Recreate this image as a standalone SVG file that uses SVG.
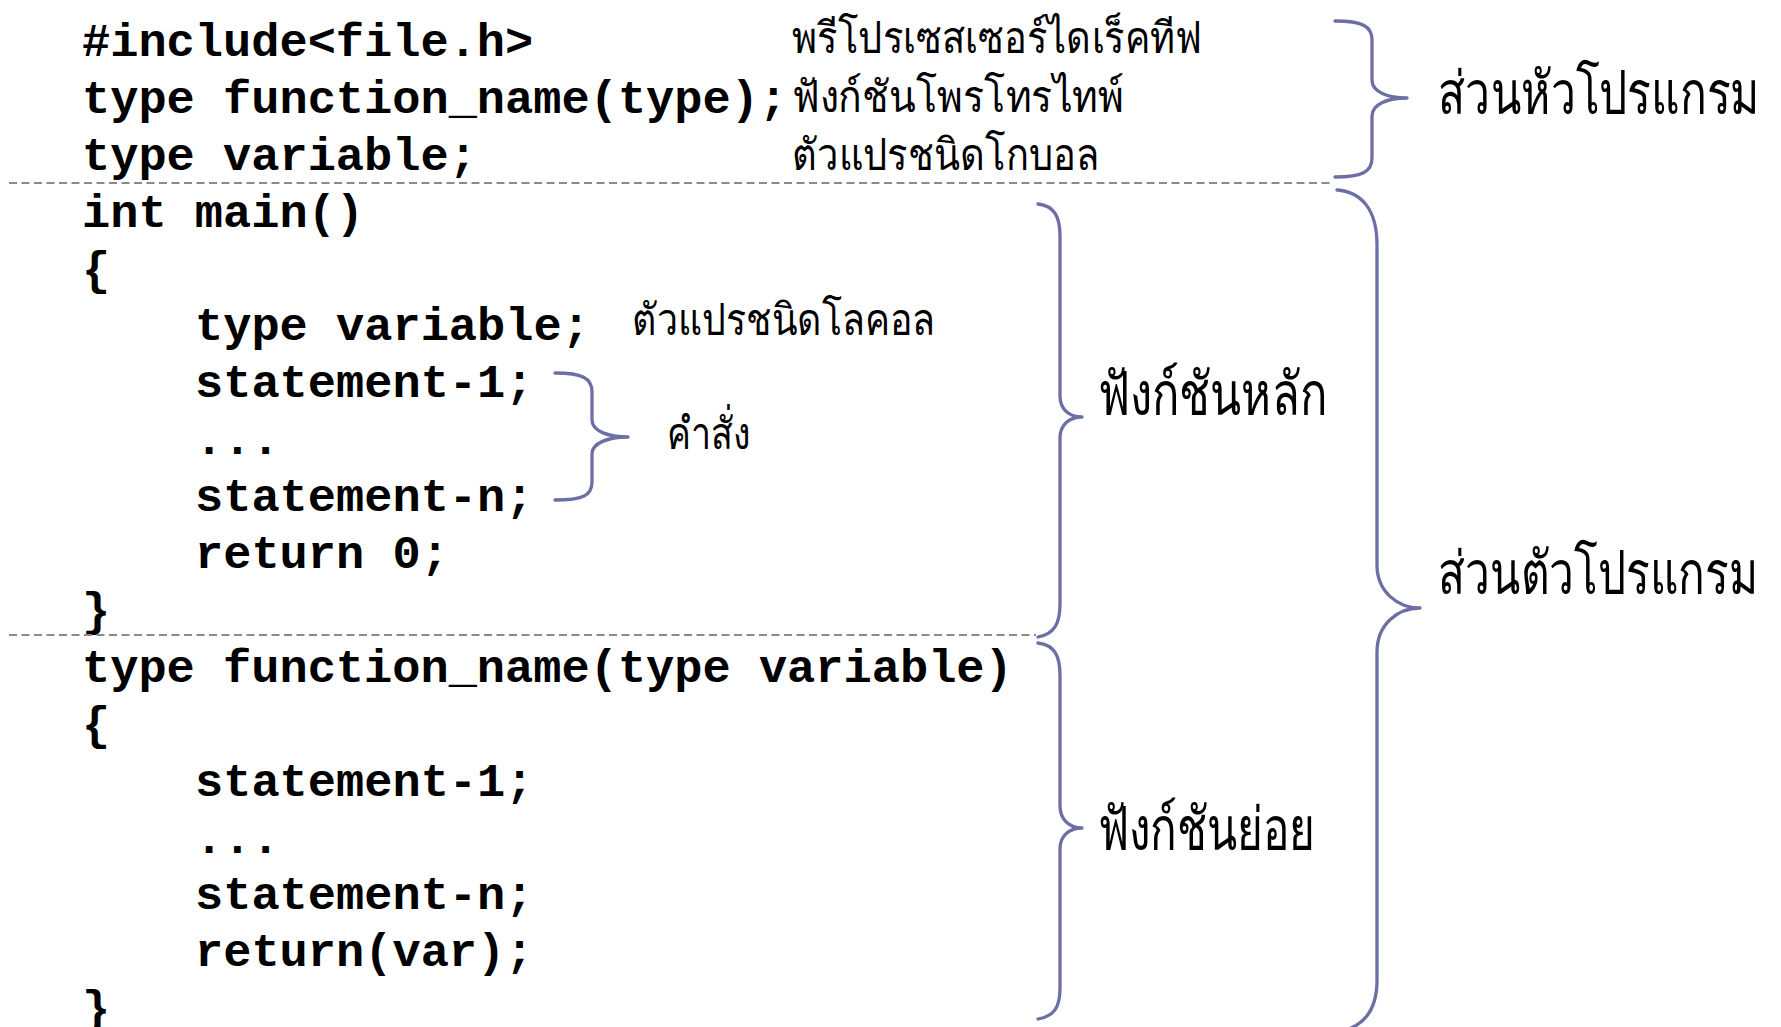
<svg xmlns="http://www.w3.org/2000/svg" width="1781" height="1027" viewBox="0 0 1781 1027">
<style>
.code{font-family:"Liberation Mono","DejaVu Sans Mono",monospace;font-weight:bold;font-size:47px;fill:#000}
.th{font-family:"Noto Sans","DejaVu Sans",sans-serif;font-size:44px;fill:#000}
.thb{font-family:"Noto Sans","DejaVu Sans",sans-serif;font-size:60px;fill:#000}
.brace{fill:none;stroke:#6C6FA6;stroke-width:3.3;stroke-linecap:round;stroke-linejoin:round}
.dash{fill:none;stroke:#8a8a8a;stroke-width:2;stroke-dasharray:8 4.5}
</style>
<rect width="1781" height="1027" fill="#fff"/>
<g id="code">
<text class="code" x="82" y="56">#include&lt;file.h&gt;</text>
<text class="code" x="82" y="113">type function_name(type);</text>
<text class="code" x="82" y="170">type variable;</text>
<text class="code" x="82" y="227">int main()</text>
<text class="code" x="82" y="284">{</text>
<text class="code" x="195" y="340">type variable;</text>
<text class="code" x="195" y="397">statement-1;</text>
<text class="code" x="195" y="454">...</text>
<text class="code" x="195" y="511">statement-n;</text>
<text class="code" x="195" y="568">return 0;</text>
<text class="code" x="82" y="625">}</text>
<text class="code" x="82" y="682">type function_name(type variable)</text>
<text class="code" x="82" y="739">{</text>
<text class="code" x="195" y="796">statement-1;</text>
<text class="code" x="195" y="853">...</text>
<text class="code" x="195" y="909">statement-n;</text>
<text class="code" x="195" y="966">return(var);</text>
<text class="code" x="82" y="1023">}</text>
</g>
<g id="connectors">
<path class="dash" d="M9,183 H1331"/>
<path class="dash" d="M9,635 H1036"/>
</g>
<g id="brace-header">
<path class="brace" d="M1335,21 C1362,21 1372,26 1372,40 V80 C1372,92 1388,98 1407,98 C1388,98 1372,104 1372,116 V158 C1372,172 1362,177 1335,177"/>
</g>
<g id="brace-statements">
<path class="brace" d="M555,373 C582,373 592,378 592,392 V420 C592,431 608,437 628,437 C608,437 592,443 592,454 V482 C592,496 582,500 555,500"/>
</g>
<g id="brace-main">
<path class="brace" d="M1038,204 C1054,206 1060,216 1060,236 V396 C1060,410 1070,417 1082,417 C1070,417 1060,424 1060,438 V604 C1060,624 1054,634 1038,637"/>
</g>
<g id="brace-sub">
<path class="brace" d="M1038,643 C1054,645 1060,655 1060,675 V806 C1060,820 1070,828 1082,828 C1070,828 1060,835 1060,849 V988 C1060,1008 1054,1016 1038,1019"/>
</g>
<g id="brace-body">
<path class="brace" d="M1337,190 C1362,192 1377,210 1377,245 V565 C1377,592 1398,608 1420,608 C1398,608 1377,624 1377,652 V980 C1377,1012 1362,1028 1337,1032"/>
</g>
<g id="label-preprocessor"><text class="th" x="792" y="53" textLength="410" lengthAdjust="spacingAndGlyphs">พรีโปรเซสเซอร์ไดเร็คทีฟ</text></g>
<g id="label-prototype"><text class="th" x="792" y="112" textLength="332" lengthAdjust="spacingAndGlyphs">ฟังก์ชันโพรโทรไทพ์</text></g>
<g id="label-global"><text class="th" x="792" y="170" textLength="307" lengthAdjust="spacingAndGlyphs">ตัวแปรชนิดโกบอล</text></g>
<g id="label-local"><text class="th" x="632" y="335" textLength="303" lengthAdjust="spacingAndGlyphs">ตัวแปรชนิดโลคอล</text></g>
<g id="label-statement"><text class="th" x="667" y="449" textLength="83" lengthAdjust="spacingAndGlyphs">คำสั่ง</text></g>
<g id="label-main"><text class="thb" x="1098" y="415" textLength="229" lengthAdjust="spacingAndGlyphs">ฟังก์ชันหลัก</text></g>
<g id="label-sub"><text class="thb" x="1098" y="850" textLength="217" lengthAdjust="spacingAndGlyphs">ฟังก์ชันย่อย</text></g>
<g id="label-header"><text class="thb" x="1438" y="114" textLength="322" lengthAdjust="spacingAndGlyphs">ส่วนหัวโปรแกรม</text></g>
<g id="label-body"><text class="thb" x="1438" y="594" textLength="320" lengthAdjust="spacingAndGlyphs">ส่วนตัวโปรแกรม</text></g>
</svg>
